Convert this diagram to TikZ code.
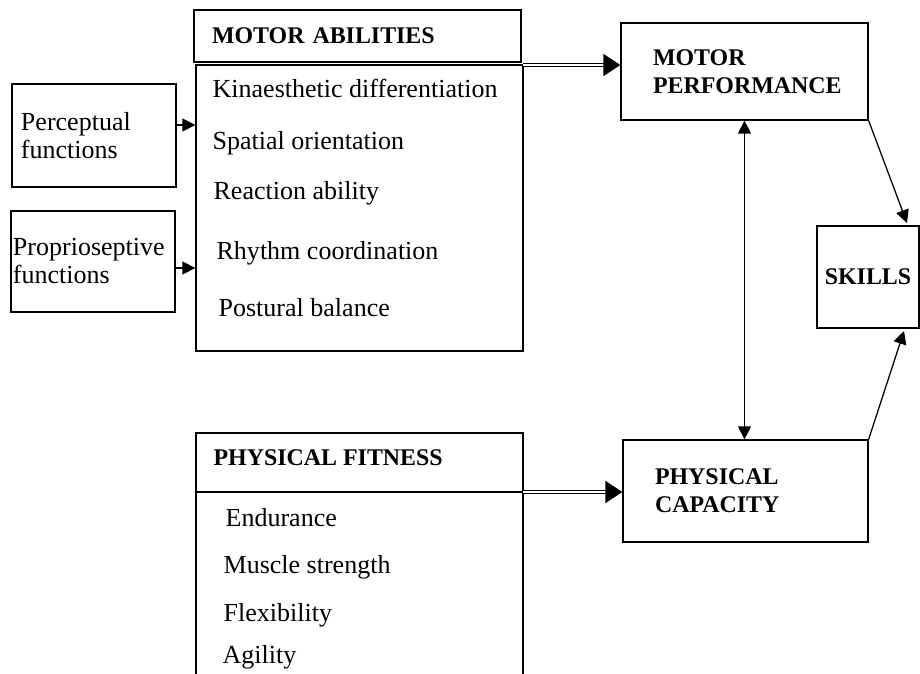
\documentclass[tikz,border=0pt]{standalone}
\usepackage{fontspec}
\setmainfont{Liberation Serif}
\usetikzlibrary{arrows.meta}
\newlength\unitpx
\setlength\unitpx{0.025cm}
\begin{document}
\begin{tikzpicture}
   [x=0.025cm, y=-0.025cm, line width=0.9pt,
    box/.style={draw, rectangle, align=left, inner ysep=0pt, font=\fontsize{18.5}{19.9}\selectfont},
    head/.style={font=\fontsize{17}{19.9}\selectfont\bfseries},
    item/.style={anchor=west, inner sep=0pt, font=\fontsize{18.5}{20}\selectfont},
    link/.style={-{Triangle[length=0.325cm, width=0.325cm]}},
    both link/.style={{Triangle[length=0.325cm, width=0.325cm]}-{Triangle[length=0.325cm, width=0.325cm]}},
    dbl/.style={double, double distance=2\unitpx, line width=1pt, -{Triangle[length=0.425cm, width=0.55cm]}}]
   \useasboundingbox (0,0) rectangle (920,674);

   % motor abilities
   \node[box, head, minimum width=327\unitpx, minimum height=52\unitpx, text width=291\unitpx, inner xsep=18\unitpx] (mahead) at (357.5,36) {MOTOR ABILITIES};
   \node[box, minimum width=327\unitpx, minimum height=286\unitpx] (malist) at (359.5,208) {};
   \node[item] (kin) at (212,88) {Kinaesthetic differentiation};
   \node[item] (spa) at (212,143) {Spatial orientation};
   \node[item] (rea) at (213,193) {Reaction ability};
   \node[item] (rhy) at (216,253) {Rhythm coordination};
   \node[item] (pos) at (218,308) {Postural balance};

   \node[box, minimum width=164\unitpx, minimum height=103\unitpx, text width=146\unitpx, inner xsep=9\unitpx] (perc) at (94,135.5) {Perceptual\\functions};
   \node[box, minimum width=164\unitpx, minimum height=101\unitpx, text width=160\unitpx, inner xsep=2\unitpx] (prop) at (93,261.5) {Proprioseptive\\functions};

   % physical fitness
   \draw (196,674) -- (196,433) -- (523,433) -- (523,674);
   \draw[line width=2pt] (196,492) -- (523,492);
   \node[item, head] (pfhead) at (213,458) {PHYSICAL FITNESS};
   \node[item] (end) at (225,518) {Endurance};
   \node[item] (mus) at (223,567) {Muscle strength};
   \node[item] (fle) at (223,615) {Flexibility};
   \node[item] (agi) at (222,657) {Agility};

   % right column
   \node[box, head, minimum width=247\unitpx, minimum height=97\unitpx, text width=183\unitpx, inner xsep=32\unitpx] (mperf) at (744.5,71.5) {MOTOR\\PERFORMANCE};
   \node[box, head, minimum width=245\unitpx, minimum height=102\unitpx, text width=181\unitpx, inner xsep=32\unitpx] (pcap) at (745.5,491) {PHYSICAL\\CAPACITY};
   \node[box, head, minimum width=102\unitpx, minimum height=102\unitpx] (skills) at (868,277) {SKILLS};

   \coordinate (maj) at (523,65);
   \coordinate (pfsep) at (523,492);
   \coordinate (pcout) at (176,125);
   \coordinate (prout) at (175,268);
   \coordinate (skin) at (907,223);
   \coordinate (skout) at (904,331);

   \draw[link] (pcout) -- (pcout -| malist.west);
   \draw[link] (prout) -- (prout -| malist.west);
   \draw[dbl] (maj) -- (maj -| mperf.west);
   \draw[dbl] (pfsep) -- (pfsep -| pcap.west);
   \draw[both link] (mperf.south) -- (mperf.south |- pcap.north);
   \draw[link] (mperf.south east) -- (skin);
   \draw[link] (pcap.north east) -- (skout);
\end{tikzpicture}
\end{document}
